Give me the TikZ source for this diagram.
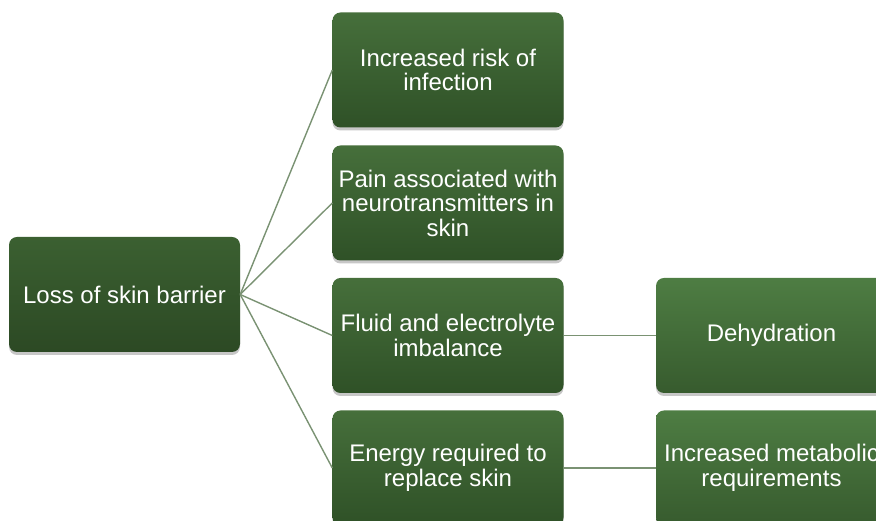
\documentclass[tikz,border=0pt]{standalone}
\usepackage{fontspec}
\setmainfont{Liberation Sans}
\usetikzlibrary{shadows}
\definecolor{lTop}{HTML}{3B6031}
\definecolor{lBot}{HTML}{2C4924}
\definecolor{mTop}{HTML}{466F3B}
\definecolor{mBot}{HTML}{2F5127}
\definecolor{rTop}{HTML}{4E7D43}
\definecolor{rBot}{HTML}{375B2E}
\definecolor{link}{HTML}{7A9273}
\tikzset{
  box/.style={rounded corners=8pt, minimum width=231pt, minimum height=115pt,
    align=center, text=white, inner sep=2pt,
    font=\fontsize{24}{24.5}\selectfont,
    drop shadow={shadow xshift=0pt, shadow yshift=-3pt, opacity=0.22, fill=black}},
  lbox/.style={box, top color=lTop, bottom color=lBot},
  mbox/.style={box, top color=mTop, bottom color=mBot},
  rbox/.style={box, top color=rTop, bottom color=rBot},
  link/.style={draw=link, line width=1.4pt}
}
\begin{document}
\begin{tikzpicture}[x=1pt,y=1pt]
\useasboundingbox (0,0) rectangle (876,521);
\clip (0,0) rectangle (876,521);
% left box
\node[lbox] (root) at (124.5,226.5) {Loss of skin barrier};
% middle column
\node[mbox] (m1) at (448,451) {Increased risk of\\infection};
\node[mbox] (m2) at (448,318) {Pain associated with\\neurotransmitters in\\skin};
\node[mbox] (m3) at (448,185.5) {Fluid and electrolyte\\imbalance};
\node[mbox] (m4) at (448,53) {Energy required to\\replace skin};
% right column
\node[rbox] (r3) at (771.5,185.5) {Dehydration};
\node[rbox] (r4) at (771.5,53) {Increased metabolic\\requirements};
% connectors
\draw[link] (root.east) -- (m1.west);
\draw[link] (root.east) -- (m2.west);
\draw[link] (root.east) -- (m3.west);
\draw[link] (root.east) -- (m4.west);
\draw[link] (m3.east) -- (r3.west);
\draw[link] (m4.east) -- (r4.west);
\end{tikzpicture}
\end{document}
